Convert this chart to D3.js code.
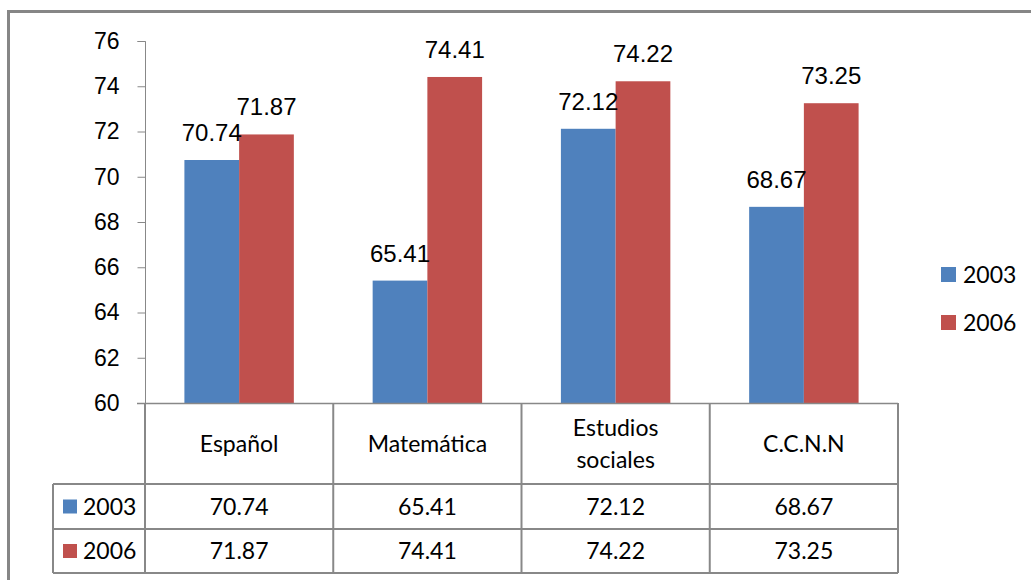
<!DOCTYPE html>
<html>
<head>
<meta charset="utf-8">
<script src="https://cdn.jsdelivr.net/npm/d3@7"></script>
<style>
  body { margin: 0; background: #fff; }
  svg { display: block; }
</style>
</head>
<body>
<svg id="chart" width="1031" height="580"></svg>
<script>
const categories = ["Español", "Matemática", "Estudios sociales", "C.C.N.N"];
const series = ["2003", "2006"];
const values2003 = [70.74, 65.41, 72.12, 68.67];
const values2006 = [71.87, 74.41, 74.22, 73.25];
const yTicks = [60, 62, 64, 66, 68, 70, 72, 74, 76];
const colors = ["#4f81bd", "#c0504d"];

const svg = d3.select("#chart");
const lineColor = "#888";

// outer frame (only top and left are visible in the picture)
svg.append("line").attr("x1", 8).attr("x2", 1031).attr("y1", 11.5).attr("y2", 11.5)
  .attr("stroke", "#868686").attr("stroke-width", 3);
svg.append("line").attr("x1", 8.5).attr("x2", 8.5).attr("y1", 10).attr("y2", 580)
  .attr("stroke", "#868686").attr("stroke-width", 3);

const plotLeft = 145, plotRight = 898, plotTop = 41, plotBottom = 403;

const x = d3.scaleBand().domain(categories).range([plotLeft, plotRight]).padding(0);
const x1 = d3.scaleBand().domain(series).range([0, x.bandwidth()]).paddingInner(0).paddingOuter(0.72);
const y = d3.scaleLinear().domain([60, 76]).range([plotBottom, plotTop]);

const rows = categories.map((c, i) => ({ cat: c, vals: [values2003[i], values2006[i]] }));

// y axis
const yAxis = d3.axisLeft(y).tickValues(yTicks).tickSize(8).tickPadding(18).tickFormat(d3.format("d"));
const gy = svg.append("g").attr("transform", `translate(${plotLeft + 0.5},0)`).call(yAxis);
gy.select(".domain").attr("stroke", lineColor).attr("d", `M-8,${plotTop + 0.5}H0V${plotBottom + 0.5}`);
gy.selectAll(".tick line").attr("stroke", lineColor);
gy.selectAll(".tick text").attr("font-family", "Liberation Sans, Arial, sans-serif")
  .attr("font-size", 23).attr("fill", "#000");

// bars
const groups = svg.append("g").selectAll("g").data(rows).join("g")
  .attr("transform", d => `translate(${x(d.cat)},0)`);

groups.selectAll("rect").data(d => d.vals.map((v, j) => ({ s: series[j], v, j })))
  .join("rect")
  .attr("x", d => x1(d.s))
  .attr("width", x1.bandwidth())
  .attr("y", d => y(d.v))
  .attr("height", d => y(60) - y(d.v))
  .attr("fill", d => colors[d.j]);

groups.selectAll("text.val").data(d => d.vals.map((v, j) => ({ s: series[j], v, j })))
  .join("text")
  .attr("class", "val")
  .attr("x", d => x1(d.s) + x1.bandwidth() / 2)
  .attr("y", d => y(d.v) - 19)
  .attr("text-anchor", "middle")
  .attr("font-family", "Liberation Sans, Arial, sans-serif")
  .attr("font-size", 24)
  .attr("fill", "#000")
  .text(d => d.v.toFixed(2));

// data table
const tableFont = "Lato, 'Open Sans', sans-serif";
const tableSize = 23;
const headerBottom = 484, row1Bottom = 529, row2Bottom = 573, tableLeft = 53;
const tbl = svg.append("g").attr("stroke", lineColor).attr("stroke-width", 2);

tbl.append("line").attr("x1", plotLeft - 8).attr("x2", plotRight).attr("y1", plotBottom + 0.5).attr("y2", plotBottom + 0.5).attr("stroke-width", 1.5);
[headerBottom, row1Bottom, row2Bottom].forEach(yy => {
  tbl.append("line").attr("x1", tableLeft).attr("x2", plotRight).attr("y1", yy).attr("y2", yy);
});
categories.concat([null]).forEach(c => {
  const xx = c ? x(c) : plotRight;
  tbl.append("line").attr("x1", xx).attr("x2", xx).attr("y1", plotBottom).attr("y2", row2Bottom);
});
tbl.append("line").attr("x1", tableLeft).attr("x2", tableLeft).attr("y1", headerBottom).attr("y2", row2Bottom);

// header labels
const hdr = svg.append("g");
categories.forEach(c => {
  const words = c === "Estudios sociales" ? ["Estudios", "sociales"] : [c];
  const cx = x(c) + x.bandwidth() / 2;
  const mid = (plotBottom + headerBottom) / 2 + 8;
  words.forEach((w, k) => {
    hdr.append("text")
      .attr("x", cx)
      .attr("y", mid + (k - (words.length - 1) / 2) * 32)
      .attr("text-anchor", "middle")
      .attr("font-family", tableFont)
      .attr("font-size", tableSize)
      .attr("fill", "#000")
      .text(w);
  });
});

// data rows
const rowDefs = [
  { name: series[0], vals: values2003, y0: headerBottom, y1: row1Bottom, color: colors[0] },
  { name: series[1], vals: values2006, y0: row1Bottom, y1: row2Bottom, color: colors[1] }
];
rowDefs.forEach(r => {
  const cy = (r.y0 + r.y1) / 2;
  svg.append("rect").attr("x", 63).attr("y", cy - 7).attr("width", 14).attr("height", 14).attr("fill", r.color);
  svg.append("text").attr("x", 83).attr("y", cy + 8)
    .attr("font-family", tableFont).attr("font-size", tableSize).attr("fill", "#000").text(r.name);
  r.vals.forEach((v, i) => {
    svg.append("text")
      .attr("x", x(categories[i]) + x.bandwidth() / 2)
      .attr("y", cy + 8)
      .attr("text-anchor", "middle")
      .attr("font-family", tableFont)
      .attr("font-size", tableSize)
      .attr("fill", "#000")
      .text(v.toFixed(2));
  });
});

// legend
const legend = svg.append("g").attr("transform", "translate(941,267)");
series.forEach((s, i) => {
  const g = legend.append("g").attr("transform", `translate(0,${i * 48})`);
  g.append("rect").attr("width", 15).attr("height", 15).attr("fill", colors[i]);
  g.append("text").attr("x", 22).attr("y", 16)
    .attr("font-family", tableFont).attr("font-size", tableSize).attr("fill", "#000").text(s);
});
</script>
</body>
</html>
